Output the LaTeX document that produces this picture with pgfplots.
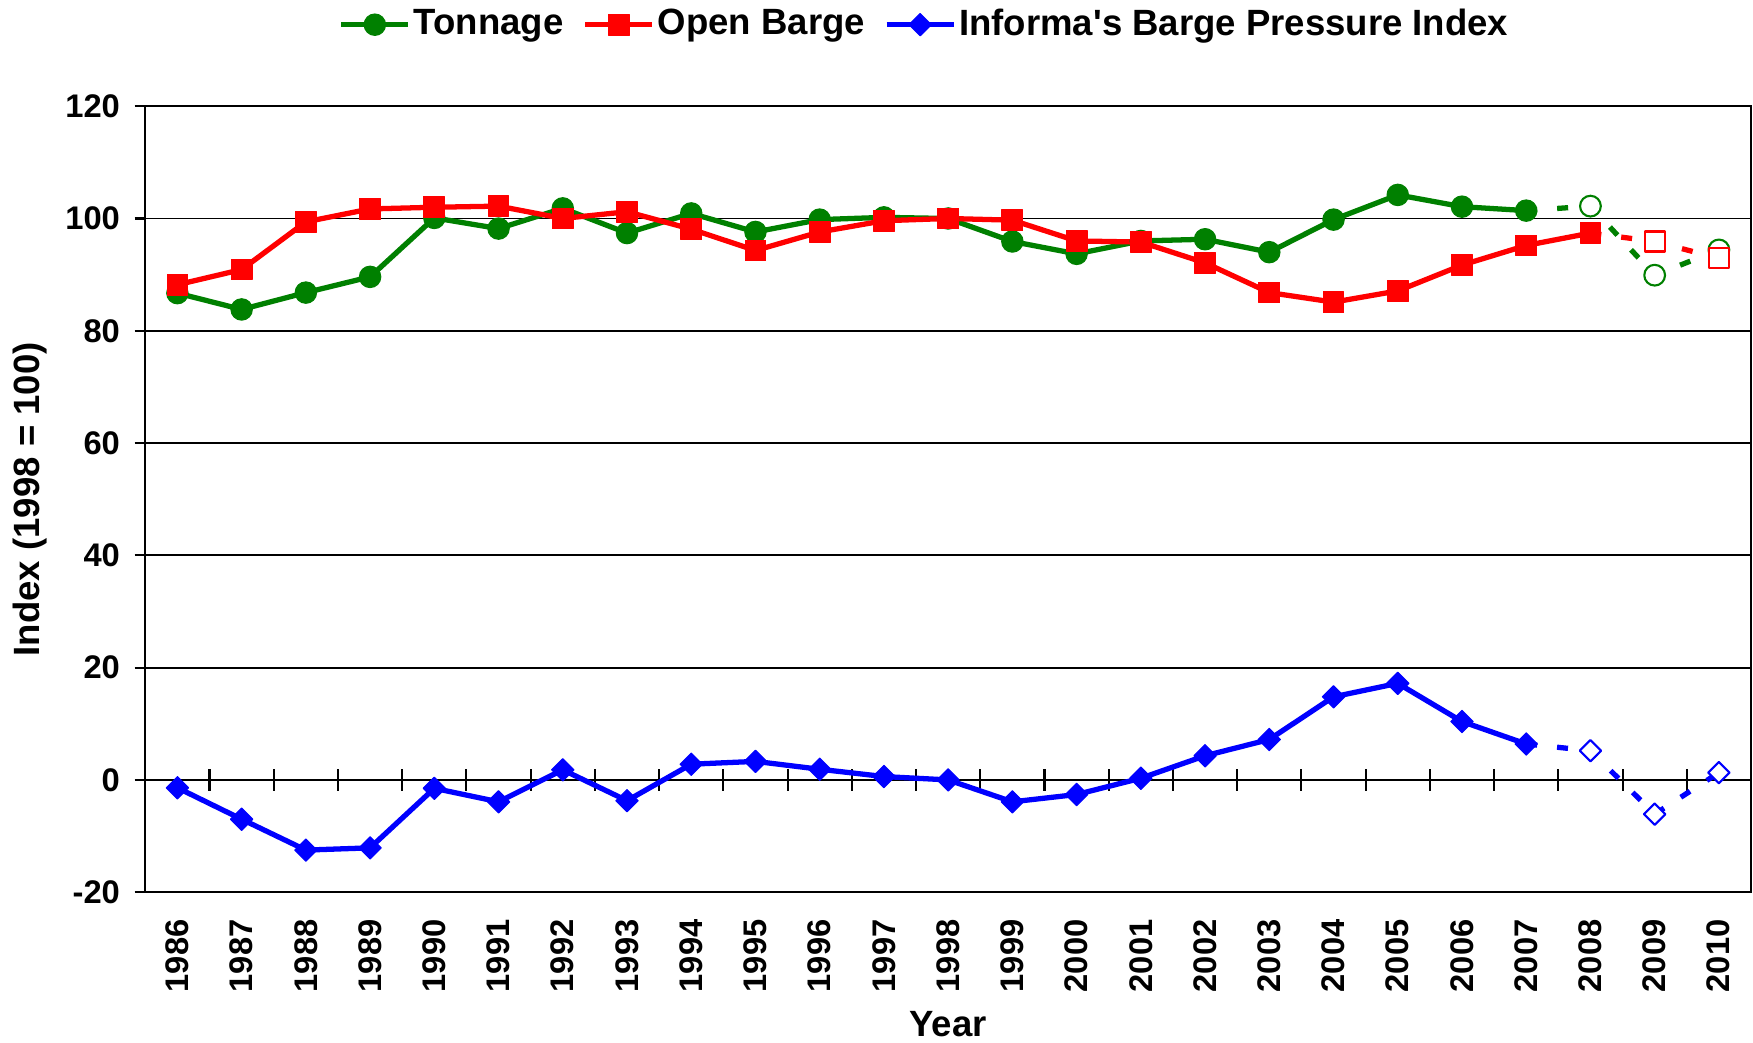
\documentclass[border=0pt]{standalone}
\usepackage{fontspec}
\setmainfont{Liberation Sans}
\usepackage{pgfplots}
\pgfplotsset{compat=1.18}
\definecolor{xlgreen}{RGB}{0,128,0}

\begin{document}
\begin{tikzpicture}
% zero line with the category ticks crossing it
\begin{axis}[
  scale only axis, width=160.57mm, height=78.6mm,
  xmin=1985.5, xmax=2010.5, ymin=-20, ymax=120,
  axis x line=middle, axis y line=none,
  x axis line style={-, black, line width=0.6pt},
  xtick={1986.5,1987.5,...,2009.5}, xticklabels={},
  ytick=\empty,
  tick align=center, major tick length=2.14mm,
  xtick style={black, line width=0.6pt},
]
\end{axis}

\begin{axis}[
  scale only axis, width=160.57mm, height=78.6mm,
  xmin=1985.5, xmax=2010.5, ymin=-20, ymax=120,
  xtick={1986,...,2010},
  ytick={-20,0,...,120},
  ymajorgrids, major grid style={black, line width=0.5pt},
  axis line style={black, line width=0.6pt},
  xtick style={draw=none},
  ytick style={black, line width=0.6pt},
  tick align=outside, ytick pos=left, xtick pos=bottom,
  major tick length=1.07mm,
  /pgf/number format/assume math mode=true,
  /pgf/number format/1000 sep={},
  tick label style={font=\fontsize{9.3}{11}\selectfont\bfseries},
  xticklabel style={rotate=90, anchor=east, inner sep=0pt, xshift=-1.6mm},
  yticklabel style={inner sep=0pt, xshift=-1.4mm},
  label style={font=\fontsize{10.4}{12}\selectfont\bfseries},
  xlabel={Year},
  xlabel style={at={(axis description cs:0.5,-0.168)}, anchor=center},
  ylabel={Index (1998 = 100)},
  ylabel style={at={(axis description cs:-0.0716,0.5)}, anchor=center},
  every axis plot/.append style={line join=round},
  legend columns=3,
  legend style={at={(0.4856,1)}, anchor=center, yshift=8.15mm,
    draw=none, fill=none, inner sep=0pt, font=\fontsize{10.4}{12}\selectfont\bfseries,
    nodes={inner sep=0.3mm},
    /tikz/every even column/.append style={column sep=1.6mm}},
  legend image code/.code={\draw[mark repeat=2,mark phase=2,#1]
    plot coordinates {(0mm,0mm) (3.35mm,0mm) (6.7mm,0mm)};},
]
% Tonnage
\addplot[xlgreen, line width=1.5pt, mark=*, mark size=3.05pt,
  mark options={line width=0.3pt}] coordinates {
  (1986,86.7) (1987,83.8) (1988,86.8) (1989,89.6) (1990,100.1) (1991,98.2)
  (1992,101.8) (1993,97.4) (1994,100.9) (1995,97.6) (1996,99.8) (1997,100.2)
  (1998,100.0) (1999,95.9) (2000,93.7) (2001,96.0) (2002,96.3) (2003,94.0)
  (2004,99.8) (2005,104.2) (2006,102.1) (2007,101.4)
};
\addlegendentry{Tonnage}
\addplot[xlgreen, line width=1.5pt, dash pattern=on 1.1mm off 2mm, forget plot]
  coordinates {(2007,101.4) (2008,102.2) (2009,89.9) (2010,94.4)};
\addplot[only marks, mark=*, mark size=2.95pt,
  mark options={draw=xlgreen, fill=white, line width=0.6pt}, forget plot]
  coordinates {(2008,102.2) (2009,89.9) (2010,94.4)};

% Open Barge
\addplot[red, line width=1.5pt, mark=square*, mark size=2.95pt,
  mark options={line width=0.3pt}] coordinates {
  (1986,88.2) (1987,90.9) (1988,99.4) (1989,101.7) (1990,102.0) (1991,102.2)
  (1992,100.0) (1993,101.2) (1994,98.1) (1995,94.3) (1996,97.6) (1997,99.6)
  (1998,100.0) (1999,99.7) (2000,96.0) (2001,95.8) (2002,92.1) (2003,86.8)
  (2004,85.1) (2005,87.1) (2006,91.7) (2007,95.2) (2008,97.4)
};
\addlegendentry{Open Barge}
\addplot[red, line width=1.5pt, dash pattern=on 1.1mm off 2mm, forget plot]
  coordinates {(2008,97.4) (2009,95.9) (2010,92.9)};
\addplot[only marks, mark=square*, mark size=2.85pt,
  mark options={draw=red, fill=white, line width=0.6pt}, forget plot]
  coordinates {(2009,95.9) (2010,92.9)};

% Barge Pressure Index
\addplot[blue, line width=1.5pt, mark=square*, mark size=2.25pt,
  mark options={rotate=45, line width=0.3pt}] coordinates {
  (1986,-1.4) (1987,-7.0) (1988,-12.5) (1989,-12.1) (1990,-1.5) (1991,-3.9)
  (1992,1.8) (1993,-3.7) (1994,2.8) (1995,3.3) (1996,1.9) (1997,0.6)
  (1998,0.0) (1999,-3.9) (2000,-2.6) (2001,0.3) (2002,4.3) (2003,7.2)
  (2004,14.8) (2005,17.2) (2006,10.4) (2007,6.4)
};
\addlegendentry{Informa\textquotesingle s Barge Pressure Index}
\addplot[blue, line width=1.5pt, dash pattern=on 1.1mm off 2mm, forget plot]
  coordinates {(2007,6.4) (2008,5.2) (2009,-6.1) (2010,1.3)};
\addplot[only marks, mark=square*, mark size=2.15pt,
  mark options={rotate=45, draw=blue, fill=white, line width=0.6pt}, forget plot]
  coordinates {(2008,5.2) (2009,-6.1) (2010,1.3)};
\end{axis}

\pgfresetboundingbox
\path ([shift={(-14.53mm,-14.98mm)}]current axis.south west)
  rectangle ([shift={(0.2mm,10.62mm)}]current axis.north east);
\end{tikzpicture}
\end{document}
